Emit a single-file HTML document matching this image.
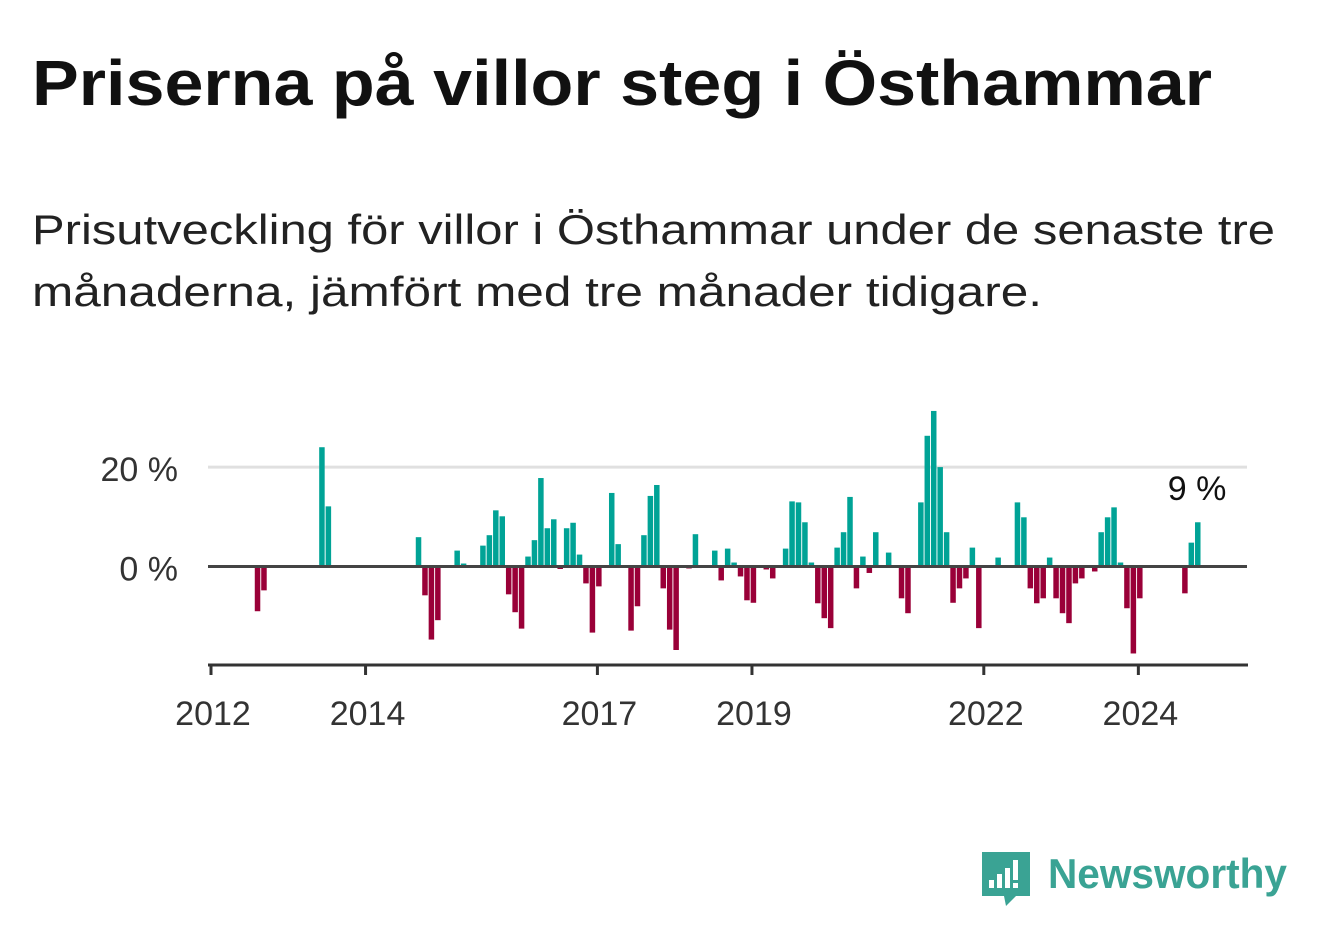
<!DOCTYPE html>
<html><head><meta charset="utf-8"><style>
html,body{margin:0;padding:0;background:#fff;}
svg{display:block;font-family:"Liberation Sans",sans-serif;}
</style></head><body>
<svg id="chart" width="1322" height="939" viewBox="0 0 1322 939" xmlns="http://www.w3.org/2000/svg">
<text x="32" y="105" font-size="64" font-weight="bold" fill="#111" textLength="1180" lengthAdjust="spacingAndGlyphs">Priserna på villor steg i Östhammar</text>
<text x="32" y="244" font-size="42" fill="#222" textLength="1243" lengthAdjust="spacingAndGlyphs">Prisutveckling för villor i Östhammar under de senaste tre</text>
<text x="32" y="306" font-size="42" fill="#222" textLength="1010" lengthAdjust="spacingAndGlyphs">månaderna, jämfört med tre månader tidigare.</text>
<g id="plot"></g>
<g>
<path d="M982 852 h48 v44 h-14 l-10 10 l-2 -10 h-22 z" fill="#3aa394"/>
<rect x="989" y="880" width="5" height="8" fill="#fff"/>
<rect x="997" y="874" width="5" height="14" fill="#fff"/>
<rect x="1005" y="868" width="5" height="20" fill="#fff"/>
<rect x="1013" y="860" width="5" height="20" fill="#fff"/>
<rect x="1013" y="883" width="5" height="5" fill="#fff"/>
<text x="1048" y="888" font-size="42" font-weight="bold" fill="#3aa394" textLength="239" lengthAdjust="spacingAndGlyphs">Newsworthy</text>
</g>
</svg>
<script>
const monthIdx = [7,8,17,18,32,33,34,35,38,39,42,43,44,45,46,47,48,49,50,51,52,53,54,55,56,57,58,59,60,62,63,65,66,67,68,69,70,71,72,74,75,78,79,80,81,82,83,84,86,87,89,90,91,92,93,94,95,96,97,98,99,100,101,102,103,105,107,108,110,111,112,113,114,115,116,117,118,119,122,125,126,127,128,129,130,131,132,133,134,135,137,138,139,140,141,142,143,144,151,152,153];
const values = [-9,-4.8,24,12.1,5.9,-5.8,-14.7,-10.8,3.2,0.6,4.2,6.3,11.3,10.1,-5.6,-9.2,-12.5,2,5.3,17.8,7.7,9.5,-0.5,7.7,8.8,2.4,-3.4,-13.3,-4,14.8,4.5,-12.9,-8,6.3,14.2,16.4,-4.4,-12.7,-16.8,-0.4,6.5,3.2,-2.8,3.6,0.8,-2,-6.8,-7.3,-0.6,-2.4,3.6,13.1,12.9,8.9,0.8,-7.4,-10.4,-12.4,3.8,6.9,14,-4.4,2,-1.3,6.9,2.8,-6.4,-9.4,12.9,26.3,31.3,20,6.9,-7.3,-4.4,-2.4,3.8,-12.4,1.8,12.9,9.9,-4.4,-7.4,-6.4,1.8,-6.4,-9.4,-11.4,-3.4,-2.4,-1,6.9,9.9,11.9,0.8,-8.4,-17.5,-6.4,-5.4,4.8,8.9];
const yTicks = [0,20];
const yTickLabels = ["0 %","20 %"];
const xTickYears = [2012,2014,2017,2019,2022,2024];
const lastLabel = "9 %";

const NS="http://www.w3.org/2000/svg";
const plot=document.getElementById('plot');
const x0=211, monthW=6.44, startYear=2012;
const xScale=m=>x0+m*monthW;
const yZero=566.5, pxPer=4.97;
const yScale=v=>yZero-v*pxPer;
function mk(tag,attrs){const e=document.createElementNS(NS,tag);for(const k in attrs)e.setAttribute(k,attrs[k]);plot.appendChild(e);return e;}

yTicks.forEach((t,i)=>{
  if(t!==0){const g=mk('line',{x1:208,x2:1247,y1:yScale(t),y2:yScale(t),stroke:'#e0e0e0','stroke-width':3});
  
  }
  const l=mk('text',{x:178,y:yScale(t)+14,'font-size':34,fill:'#333','text-anchor':'end'});
  
  
  l.textContent=yTickLabels[i];
});
monthIdx.forEach((m,i)=>{
  const v=values[i];
  const y=v>=0?yScale(v):yZero;
  const b=mk('rect',{x:xScale(m)-1.3,y:y,width:5.5,height:Math.abs(v)*pxPer,fill:v>=0?'#00a396':'#9a0038'});
  
  
});
const z=mk('line',{x1:208,x2:1247,y1:yZero,y2:yZero,stroke:'#444','stroke-width':3});


const ax=mk('line',{x1:208,x2:1248,y1:665,y2:665,stroke:'#333','stroke-width':3});


xTickYears.forEach(yr=>{
  const x=xScale((yr-startYear)*12);
  const t=mk('line',{x1:x,x2:x,y1:665,y2:675,stroke:'#333','stroke-width':3});
  
  
  const l=mk('text',{x:x+2,y:725,'font-size':34,fill:'#333','text-anchor':'middle'});
  
  
  l.textContent=yr;
});
const lm=monthIdx[monthIdx.length-1];
const ll=mk('text',{x:xScale(lm)+30,y:500,'font-size':34,fill:'#111','text-anchor':'end'});


ll.textContent=lastLabel;
</script>
</body></html>
